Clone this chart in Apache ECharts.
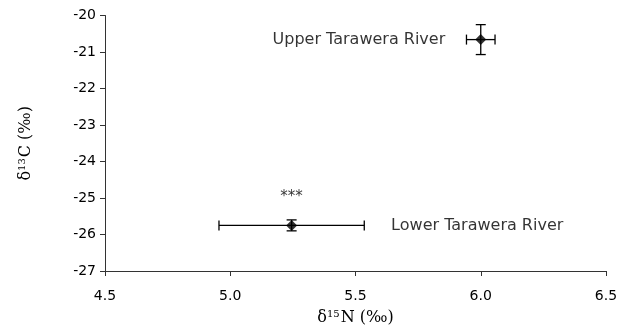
<!DOCTYPE html>
<html><head><meta charset="utf-8">
<script src="https://cdn.jsdelivr.net/npm/echarts@6/dist/echarts.min.js"></script>
<style>html,body{margin:0;padding:0;background:#fff}#c{width:621px;height:327px}</style>
</head><body><div id="c"></div>
<script>
const siteNames = ['Upper Tarawera River', 'Lower Tarawera River'];
const n15 = [6.0, 5.245];
const c13 = [-20.66, -25.75];
const n15Err = [0.057, 0.29];
const c13Err = [0.41, 0.15];
const sigMarks = ['', '***'];
const xTicks = [4.5, 5.0, 5.5, 6.0, 6.5];
const yTicks = [-27, -26, -25, -24, -23, -22, -21, -20];

const chart = echarts.init(document.getElementById('c'), null, {renderer: 'canvas'});
const pts = n15.map((x, i) => [x, c13[i], n15Err[i], c13Err[i], i]);
const tickFont = {fontFamily: 'DejaVu Sans, sans-serif', fontSize: 14, color: '#000'};
const labelFont = {fontFamily: 'DejaVu Sans, sans-serif', fontSize: 16, color: '#000'};
const serif = 'DejaVu Serif, serif';
const nameRich = {
  d: {fontFamily: serif, fontSize: 16, color: '#000'},
  s: {fontFamily: serif, fontSize: 10, color: '#000', verticalAlign: 'top', padding: [0, 1, 8, 0]}
};
chart.setOption({
  animation: false,
  grid: {left: 105, right: 15, top: 15.5, bottom: 56, outerBoundsMode: 'none', containLabel: false},
  xAxis: {
    type: 'value', min: xTicks[0], max: xTicks[xTicks.length - 1], interval: 0.5,
    splitLine: {show: false},
    axisLine: {lineStyle: {color: '#333', width: 1}},
    axisTick: {show: true, length: 5, lineStyle: {color: '#333'}},
    axisLabel: Object.assign({margin: 18, formatter: v => v.toFixed(1)}, tickFont),
    name: '{d|δ}{s|15}{d|N (‰)}', nameLocation: 'middle', nameGap: 38,
    nameTextStyle: {rich: nameRich}
  },
  yAxis: {
    type: 'value', min: yTicks[0], max: yTicks[yTicks.length - 1], interval: 1,
    splitLine: {show: false},
    axisLine: {show: true, lineStyle: {color: '#333', width: 1}},
    axisTick: {show: true, length: 5, lineStyle: {color: '#333'}},
    axisLabel: Object.assign({margin: 9}, tickFont),
    name: '{d|δ}{s|13}{d|C (‰)}', nameLocation: 'middle', nameGap: 70, nameRotate: 90,
    nameTextStyle: {rich: nameRich}
  },
  series: [
    {
      type: 'custom',
      data: pts,
      renderItem: function (params, api) {
        const x = api.value(0), y = api.value(1), ex = api.value(2), ey = api.value(3);
        const l = api.coord([x - ex, y]), r = api.coord([x + ex, y]);
        const t = api.coord([x, y + ey]), b = api.coord([x, y - ey]);
        const cap = 5;
        const st = {stroke: '#000', lineWidth: 1.3};
        const line = (x1, y1, x2, y2) => ({type: 'line', shape: {x1, y1, x2, y2}, style: st});
        return {type: 'group', children: [
          line(l[0], l[1], r[0], r[1]),
          line(l[0], l[1] - cap, l[0], l[1] + cap),
          line(r[0], r[1] - cap, r[0], r[1] + cap),
          line(t[0], t[1], b[0], b[1]),
          line(t[0] - cap, t[1], t[0] + cap, t[1]),
          line(b[0] - cap, b[1], b[0] + cap, b[1])
        ]};
      },
      z: 2
    },
    {
      type: 'scatter',
      symbol: 'diamond', symbolSize: 11,
      itemStyle: {color: '#000'},
      data: pts.map((p, i) => ({
        value: [p[0], p[1]],
        label: i === 0
          ? Object.assign({show: true, position: 'left', distance: 30, formatter: siteNames[i]}, labelFont)
          : Object.assign({show: true, position: 'right', distance: 94, formatter: siteNames[i]}, labelFont)
      })),
      z: 3
    },
    {
      type: 'scatter',
      symbolSize: 0,
      data: pts.map((p, i) => ({value: [p[0], p[1]], label: {show: !!sigMarks[i], position: 'top', distance: 21, formatter: sigMarks[i], fontFamily: 'DejaVu Sans, sans-serif', fontSize: 15, color: '#000'}})),
      z: 3
    }
  ]
});
</script></body></html>
